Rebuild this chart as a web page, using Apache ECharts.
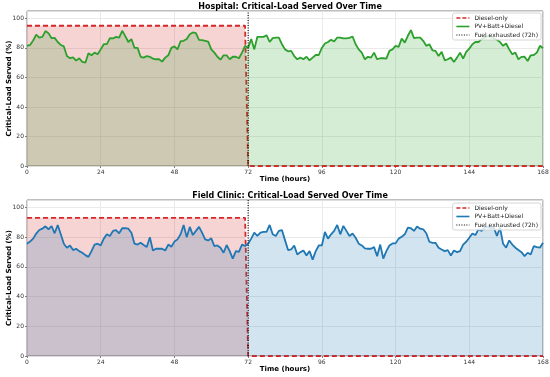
<!DOCTYPE html>
<html><head><meta charset="utf-8">
<script src="https://cdn.jsdelivr.net/npm/echarts@6/dist/echarts.min.js"></script>
<style>html,body{margin:0;padding:0;background:#fff}#c{width:550px;height:377px}</style>
</head><body><div id="c"></div>
<script>
// Hourly critical-load served (%), hours 0..168
const hospitalPV = [81.4,82,85,89,87,87.5,91.4,90,86.6,86.8,84,82,81,74.5,73,73.6,71.4,73,70.5,70,
76.4,75,76.8,75.7,79,82.5,82.5,86.6,86.4,87.5,87,91.6,88,84,86,80,80,74,73.4,74.5,
74,72.7,72.3,72.3,70.7,73.4,75,80,81,79,84.5,84.8,86,89.3,90.5,90,85.5,85.2,84.8,84.3,
79,76.8,74,72,75,75,72.3,74,74,73,76.8,81.4,80,86,79,87.5,87.5,87.5,88.6,84,
86.6,87,87,82.5,79,77.7,78,74.5,72.3,73.4,72.3,74,71.6,73.4,75.2,75.2,80,83,84,85.5,
84.3,87,87,86.4,86.4,86.8,87.7,82.5,79,76.8,72.3,74,73.4,76.8,72.3,73,73,72.7,78,79,
81.4,80.7,86.4,83.6,88.2,92,86.6,87,87,84.8,81.4,82.5,78.4,78,74.5,77.3,71.6,72.3,73.4,70.5,
73.4,76.8,72.7,77.3,79.5,82.5,84,84,86,87,88,87.7,86.4,85.5,84,81.4,83,79,75.7,76.8,
72.3,73.9,74,71.1,75,75.2,76.8,81.4,79.8];
const clinicPV = [75.6,77,79,82.4,84.8,85.7,87.3,85.3,87.5,82.6,88.2,81.9,75.6,72.9,74.4,71.3,72.2,70.6,69.5,67.9,
66.7,70.6,75,75.6,74.4,79,81.9,80.8,84.2,84.8,82.6,86,86,85.7,83,75.6,75,76.2,74.7,73.3,
80,71,72.2,72.2,72.2,71,75,73.5,77,78.5,81.9,88.2,80,86.9,81.4,84.2,86.9,83,78.5,77.8,
79.2,74,74.4,72.9,69.5,74.7,70.6,65.6,70.6,70.1,75,74,75.6,79,83,80.8,83,83.5,83.5,88.2,
81.9,80.8,84.2,84.8,78,71.3,71.7,74.4,68.3,69.9,71,67.6,70.6,64.9,70.6,74.4,74.4,83.5,79,81.9,
84.2,88.2,81.9,87.6,84.2,80.8,82.4,79.6,75.6,74.4,72.4,72.2,72.2,73.3,67.2,75,65.6,70.6,74.4,75.8,
75.8,79,80.3,81.9,86.4,86,84.2,87.1,85.7,85.3,82.6,76.9,76.2,76.2,72.9,71.7,70.6,71.3,67.6,71,
69.9,70.6,75,76.9,79.6,82.4,81.4,85.3,84.2,86.4,86.9,86,86.4,80.8,86.4,75.6,72.9,77.8,75,72.9,
71.3,69.9,67.2,69.5,68.3,74,73.3,72.9,76.2];
const dieselLevels = [95, 93];        // diesel-only served % before fuel runs out
const fuelOutHour = 72;
const xTickStep = 24, xMax = 168;
const yTickStep = 20, yMax = 105;
const titles = ['Hospital: Critical-Load Served Over Time', 'Field Clinic: Critical-Load Served Over Time'];
const pvSeries = [hospitalPV, clinicPV];
const pvColors = ['#2ca02c', '#1f77b4'];
const names = ['Diesel-only', 'PV+Batt+Diesel', 'Fuel exhausted (72h)'];

const FONT = 'DejaVu Sans';
const NOSYM = {color:'rgba(0,0,0,0)', borderWidth:0};
const grids = [{left:27, right:7, top:11, height:155}, {left:27, right:7, top:200, height:156}];
const option = {
  animation:false, backgroundColor:'#fff',
  textStyle:{fontFamily:FONT},
  title: titles.map((t,i)=>({text:t, left:285, textAlign:'center', top: i===0?-2:187,
    textStyle:{fontFamily:FONT, fontSize:8, fontWeight:'bold', color:'#000'}})),
  grid: grids.map(g=>Object.assign({show:true, outerBoundsMode:'none', containLabel:false,
    borderColor:'#7f7f7f', borderWidth:1, backgroundColor:'#fff'}, g)),
  legend: [0,1].map(i=>({
    orient:'vertical', right:9, top: i===0?13:203, itemGap:2.5, itemWidth:13, itemHeight:7,
    backgroundColor:'rgba(255,255,255,0.8)', borderColor:'#cccccc', borderWidth:0.8, borderRadius:2,
    padding:[2,3,2,3], textStyle:{fontFamily:FONT, fontSize:6, color:'#222'},
    data:[
      {name:names[0], itemStyle:NOSYM, lineStyle:{color:'#d62728', type:[4,2], width:1.6}},
      {name:names[1], itemStyle:NOSYM, lineStyle:{color:pvColors[i], width:1.6}},
      {name:names[2], itemStyle:NOSYM, lineStyle:{color:'#000', type:[1,1.5], width:1.1}}
    ]
  })),
  xAxis: [0,1].map(i=>({type:'value', gridIndex:i, min:0, max:xMax, interval:xTickStep,
    name:'Time (hours)', nameLocation:'middle', nameGap:10, nameMoveOverlap:false,
    nameTextStyle:{fontFamily:FONT, fontSize:7, fontWeight:'bold', color:'#000'},
    axisLine:{show:false}, axisTick:{show:true, length:2, lineStyle:{color:'#7f7f7f'}},
    axisLabel:{fontFamily:FONT, fontSize:6, color:'#333', margin:3},
    splitLine:{show:true, lineStyle:{color:'#e5e5e5', width:0.8}}})),
  yAxis: [0,1].map(i=>({type:'value', gridIndex:i, min:0, max:yMax, interval:yTickStep,
    name:'Critical-Load Served (%)', nameLocation:'middle', nameGap:14, nameRotate:90, nameMoveOverlap:false,
    nameTextStyle:{fontFamily:FONT, fontSize:7, fontWeight:'bold', color:'#000'},
    axisLine:{show:false}, axisTick:{show:true, length:2, lineStyle:{color:'#7f7f7f'}},
    axisLabel:{fontFamily:FONT, fontSize:6, color:'#333', margin:3, showMaxLabel:false},
    splitLine:{show:true, lineStyle:{color:'#e5e5e5', width:0.8}}})),
  series: []
};
[0,1].forEach(i=>{
  const lvl = dieselLevels[i];
  option.series.push({name:names[0], type:'line', xAxisIndex:i, yAxisIndex:i, symbol:'none', z:2,
    data:[[0,lvl],[fuelOutHour-1,lvl],[fuelOutHour,0],[xMax,0]],
    lineStyle:{color:'#d62728', type:[5,3], width:1.8}, itemStyle:{color:'#d62728'},
    areaStyle:{color:'#d62728', opacity:0.2}});
  option.series.push({name:names[1], type:'line', xAxisIndex:i, yAxisIndex:i, symbol:'none', z:3,
    data: pvSeries[i].map((v,h)=>[h,v]),
    lineStyle:{color:pvColors[i], width:1.8}, itemStyle:{color:pvColors[i]},
    areaStyle:{color:pvColors[i], opacity:0.2}});
  option.series.push({name:names[2], type:'line', xAxisIndex:i, yAxisIndex:i, symbol:'none', z:4,
    data:[[fuelOutHour,0],[fuelOutHour,yMax]],
    lineStyle:{color:'#000', type:[1,1.5], width:1.1}, itemStyle:{color:'#000'}});
});
const chart = echarts.init(document.getElementById('c'), null, {renderer:'canvas'});
chart.setOption(option);
</script></body></html>
